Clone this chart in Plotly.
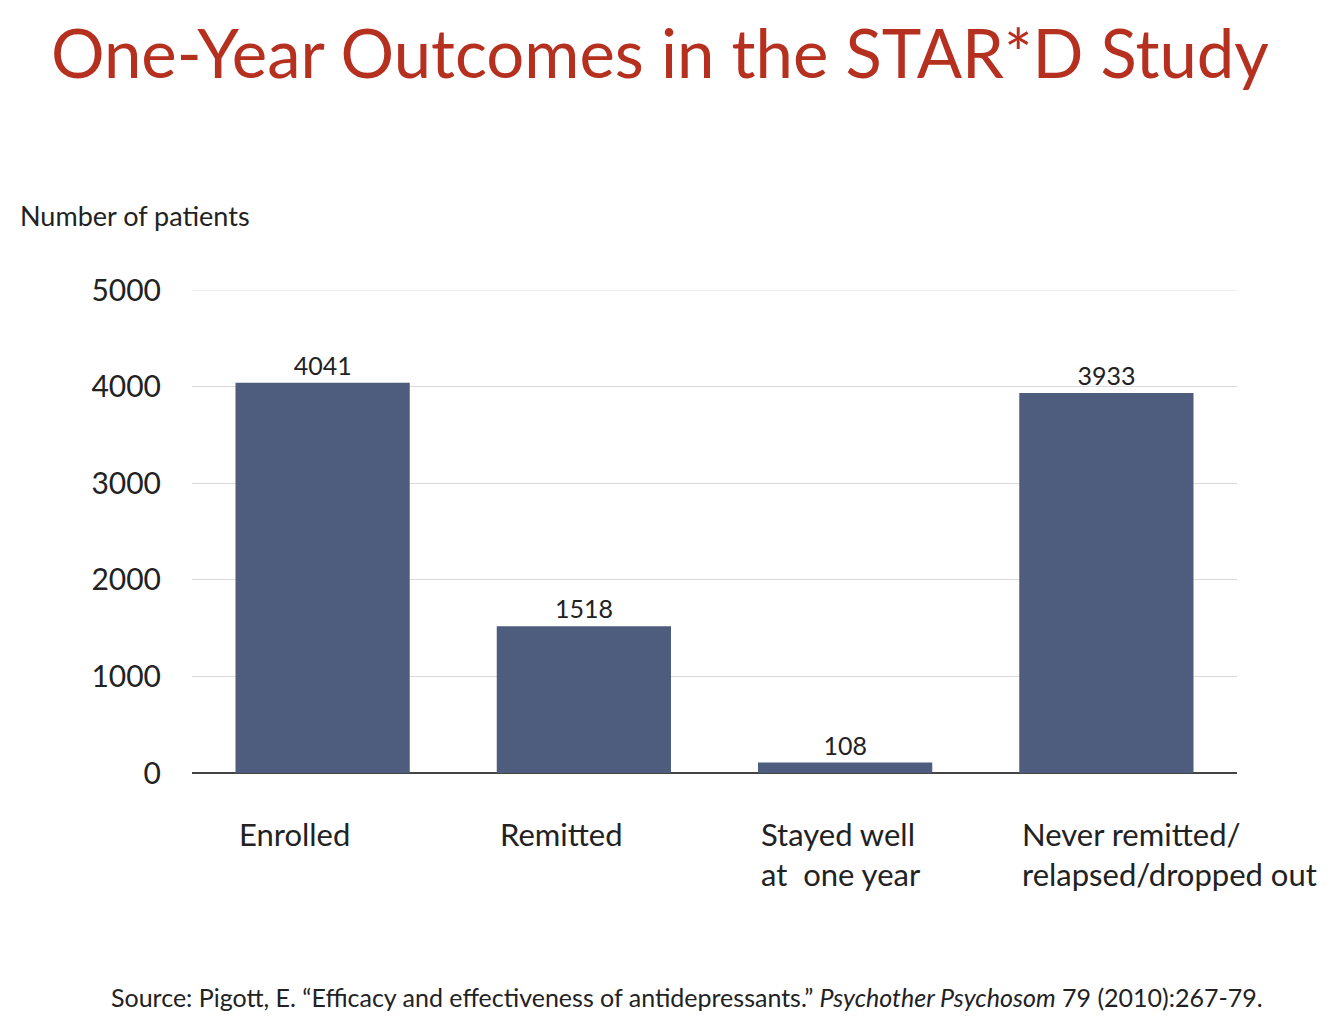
import plotly.graph_objects as go

categories = ["Enrolled", "Remitted", "Stayed well<br>at  one year", "Never remitted/<br>relapsed/dropped out"]
values = [4041, 1518, 108, 3933]
value_labels = ["4041", "1518", "108", "3933"]
y_ticks = [0, 1000, 2000, 3000, 4000, 5000]

FONT = "Lato"
BAR = "#4e5c7d"

# plot area (page pixels, before the 8px body offset)
L, T, W, H = 184, 282, 1045, 483

def px(xp):
    return (xp - 192) / W

def py(yp):
    return (773 - yp) / H

fig = go.Figure()
fig.add_trace(go.Bar(
    x=list(range(len(categories))), y=values,
    marker=dict(color=BAR, line=dict(width=0)),
    text=value_labels, textposition="outside",
    textfont=dict(family=FONT, size=25, color="#222222"),
    cliponaxis=False, width=0.667,
))

for i, c in enumerate(categories):
    fig.add_annotation(x=i, y=0, xref="x", yref="y", text=c, showarrow=False,
                       xanchor="left", yanchor="top", xshift=-86, yshift=-40,
                       align="left", font=dict(family=FONT, size=31, color="#222222"))

fig.add_annotation(x=px(660), y=py(52), xref="paper", yref="paper", xanchor="center", yanchor="middle",
                   text="One-Year Outcomes in the STAR*D Study", showarrow=False,
                   font=dict(family=FONT, size=67, color="#b5301f"))
fig.add_annotation(x=px(18), y=py(215), xref="paper", yref="paper", xanchor="left", yanchor="middle",
                   text="Number of patients", showarrow=False,
                   font=dict(family=FONT, size=27, color="#222222"))
fig.add_annotation(x=px(687), y=py(997), xref="paper", yref="paper", xanchor="center", yanchor="middle",
                   text="Source: Pigott, E. \u201cEfficacy and effectiveness of antidepressants.\u201d <i>Psychother Psychosom</i> 79 (2010):267-79.",
                   showarrow=False, font=dict(family=FONT, size=25, color="#222222"))

fig.update_layout(
    width=1344, height=1022, paper_bgcolor="white", plot_bgcolor="white",
    margin=dict(l=L, r=1344 - L - W, t=T, b=1022 - T - H, autoexpand=False),
    showlegend=False,
    xaxis=dict(range=[-0.5, 3.5], showticklabels=False, showgrid=False, zeroline=False,
               showline=False, ticks=""),
    yaxis=dict(range=[0, 5000], tickvals=y_ticks, showgrid=True, gridcolor="#d9d9d9", gridwidth=1,
               zeroline=True, zerolinecolor="#444444", zerolinewidth=2, showline=False,
               tickfont=dict(family=FONT, size=30, color="#222222"), ticks="", ticklabelstandoff=30),
    shapes=[dict(type="line", xref="paper", yref="y", x0=0, x1=1, y0=5000, y1=5000,
                 line=dict(color="#d9d9d9", width=1))],
)

fig.write_html("out.html")
